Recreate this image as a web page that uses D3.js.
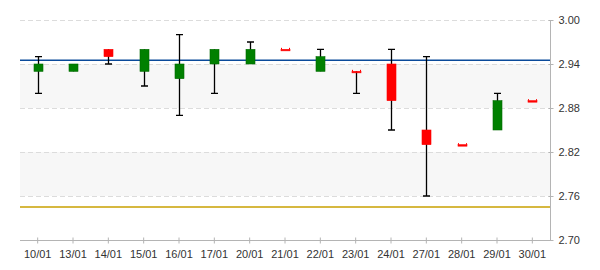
<!DOCTYPE html>
<html>
<head>
<meta charset="utf-8">
<script src="https://cdn.jsdelivr.net/npm/d3@7"></script>
<style>
  body { margin: 0; background: #fff; }
  svg { display: block; font-family: "Liberation Sans", Arial, sans-serif; }
</style>
</head>
<body>
<div id="chart"></div>
<script>
// candle data
var dates = ["10/01","13/01","14/01","15/01","16/01","17/01","20/01","21/01","22/01","23/01","24/01","27/01","28/01","29/01","30/01"];
var opens  = [2.93, 2.93, 2.96, 2.93, 2.92, 2.94, 2.94, 2.96, 2.93, 2.93, 2.94, 2.85, 2.83, 2.85, 2.89];
var closes = [2.94, 2.94, 2.95, 2.96, 2.94, 2.96, 2.96, 2.96, 2.95, 2.93, 2.89, 2.83, 2.83, 2.89, 2.89];
var highs  = [2.95, 2.94, 2.96, 2.96, 2.98, 2.96, 2.97, 2.96, 2.96, 2.93, 2.96, 2.95, 2.83, 2.90, 2.89];
var lows   = [2.90, 2.93, 2.94, 2.91, 2.87, 2.90, 2.94, 2.96, 2.93, 2.90, 2.85, 2.76, 2.83, 2.85, 2.89];
var yTicks = [2.70, 2.76, 2.82, 2.88, 2.94, 3.00];
var refLines = [2.945, 2.745];
var refColors = ["#0a4a9a", "#c9a000"];

var w = 600, h = 270;
var margin = {top: 20, right: 50, bottom: 30, left: 20};

var svg = d3.select("#chart").append("svg")
    .attr("width", w)
    .attr("height", h);

var x = d3.scaleBand()
    .domain(dates)
    .range([margin.left, w - margin.right]);

var y = d3.scaleLinear()
    .domain([2.70, 3.00])
    .range([h - margin.bottom, margin.top]);

// alternating shaded bands
var bands = [];
for (var i = 0; i < yTicks.length - 1; i++) {
    if (i % 2 == 1) bands.push([yTicks[i], yTicks[i + 1]]);
}
svg.selectAll(".band")
    .data(bands)
    .enter().append("rect")
    .attr("class", "band")
    .attr("x", margin.left)
    .attr("width", w - margin.right - margin.left)
    .attr("y", function(d) { return y(d[1]); })
    .attr("height", function(d) { return y(d[0]) - y(d[1]); })
    .style("fill", "#f7f7f7");

// dashed grid
svg.selectAll(".grid")
    .data(yTicks.slice(1))
    .enter().append("line")
    .attr("class", "grid")
    .attr("x1", margin.left)
    .attr("x2", w - margin.right)
    .attr("y1", function(d) { return Math.round(y(d)) + 0.5; })
    .attr("y2", function(d) { return Math.round(y(d)) + 0.5; })
    .style("stroke", "#dcdcdc")
    .style("stroke-dasharray", "5,3");

// reference lines
svg.selectAll(".ref")
    .data(refLines)
    .enter().append("line")
    .attr("class", "ref")
    .attr("x1", margin.left)
    .attr("x2", w - margin.right)
    .attr("y1", function(d) { return y(d); })
    .attr("y2", function(d) { return y(d); })
    .style("stroke", function(d, i) { return refColors[i]; })
    .style("stroke-width", 1.5);

// axes
var yAxis = svg.append("g")
    .attr("transform", "translate(" + (w - margin.right + 0.5) + ",0)")
    .call(d3.axisRight(y).tickValues(yTicks).tickFormat(d3.format(".2f")).tickSize(3).tickPadding(5));
yAxis.select(".domain").attr("d", "M0," + margin.top + "V" + (h - margin.bottom)).style("stroke", "#b4b4b4");
yAxis.selectAll(".tick line").attr("x1", -2).style("stroke", "#b4b4b4");
yAxis.selectAll("text").style("fill", "#333").style("font-size", "11px");

var xAxis = svg.append("g")
    .attr("transform", "translate(0," + (h - margin.bottom + 0.5) + ")")
    .call(d3.axisBottom(x).tickSize(3).tickPadding(7));
xAxis.select(".domain").attr("d", "M" + margin.left + ",0H" + (w - margin.right)).style("stroke", "#b4b4b4");
xAxis.selectAll(".tick line").attr("y1", -3).style("stroke", "#b4b4b4");
xAxis.selectAll("text").style("fill", "#333").style("font-size", "11px");

// candles
var candles = dates.map(function(d, i) {
    return {date: d, open: opens[i], close: closes[i], high: highs[i], low: lows[i]};
});

var bw = 8, cap = 7;
var g = svg.selectAll(".candle")
    .data(candles)
    .enter().append("g")
    .attr("class", "candle")
    .attr("transform", function(d) { return "translate(" + Math.round(x(d.date) + x.bandwidth() / 2) + ",0)"; });

g.filter(function(d) { return d.high > d.low; })
    .append("path")
    .attr("d", function(d) {
        var p = "M0.5," + y(d.high) + "V" + y(d.low);
        if (d.high > Math.max(d.open, d.close)) p += "M" + (-cap / 2 + 0.5) + "," + y(d.high) + "h" + cap;
        if (d.low < Math.min(d.open, d.close)) p += "M" + (-cap / 2 + 0.5) + "," + y(d.low) + "h" + cap;
        return p;
    })
    .style("stroke", "#000")
    .style("stroke-width", 1.3)
    .style("fill", "none");

g.append("rect")
    .attr("x", -bw / 2)
    .attr("width", bw + 1)
    .attr("y", function(d) { return y(Math.max(d.open, d.close)); })
    .attr("height", function(d) { return Math.max(1.5, Math.abs(y(d.open) - y(d.close))); })
    .style("fill", function(d) { return d.close > d.open ? "#008000" : "#ff0000"; })
    .style("stroke", function(d) { return d.close > d.open ? "#006a00" : "#ff0000"; })
    .style("stroke-width", 0.6);

// flat candles get a small bracket on top
g.filter(function(d) { return d.open == d.close; })
    .append("path")
    .attr("d", function(d) {
        var yy = y(d.close);
        return "M" + (-bw / 2 + 0.5) + "," + (yy - 1.5) + "v1.5M" + (bw / 2 + 0.5) + "," + (yy - 1.5) + "v1.5";
    })
    .style("stroke", "#ff0000")
    .style("stroke-width", 1)
    .style("fill", "none");
</script>
</body>
</html>
